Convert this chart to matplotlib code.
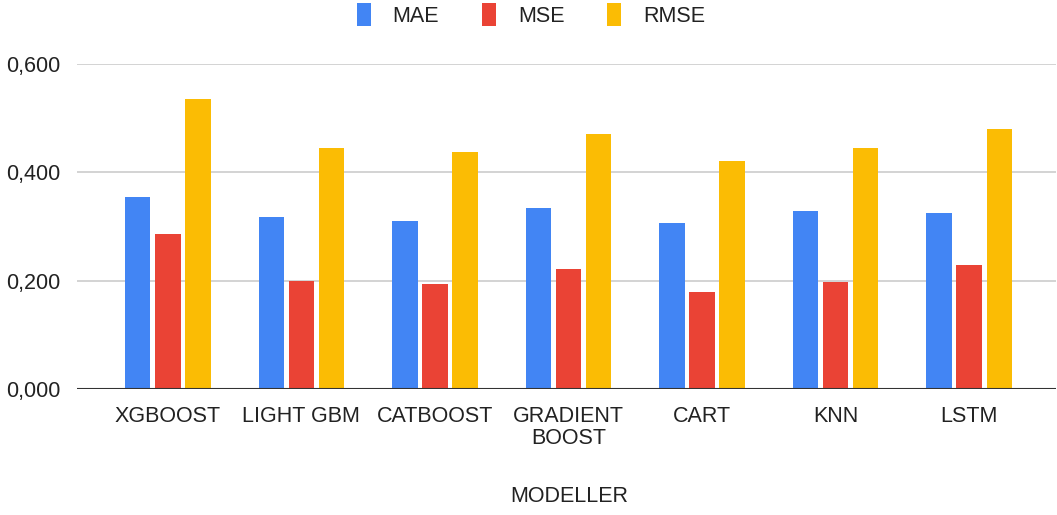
import matplotlib
matplotlib.use("Agg")
import matplotlib.pyplot as plt
from matplotlib.patches import Patch
from matplotlib.ticker import FuncFormatter, FixedLocator
import numpy as np

plt.rcParams['font.family'] = ['Liberation Sans', 'DejaVu Sans']

###### DATA ######
models = ['XGBOOST', 'LIGHT GBM', 'CATBOOST', 'GRADIENT\nBOOST', 'CART', 'KNN', 'LSTM']
mae = [0.355, 0.318, 0.311, 0.335, 0.307, 0.328, 0.324]
mse = [0.286, 0.200, 0.194, 0.221, 0.180, 0.197, 0.229]
rmse = [0.535, 0.445, 0.438, 0.470, 0.421, 0.445, 0.480]
series_names = ['MAE', 'MSE', 'RMSE']
colors = ['#4285F4', '#EA4335', '#FBBC04']

FS = 15.5

###### PLOT ######
fig = plt.figure(figsize=(10.57, 5.15), dpi=100)
ax = fig.add_axes([77 / 1057, 1 - 389 / 515, 979 / 1057, 325 / 515])

x = np.arange(len(models))
bar_w = 0.19
step = 0.225
for i, (vals, col) in enumerate(zip([mae, mse, rmse], colors)):
    ax.bar(x + (i - 1) * step, vals, width=bar_w, color=col, zorder=3)

ax.set_xlim(-0.68, 6.65)
ax.set_ylim(0, 0.6)
ax.yaxis.set_major_locator(FixedLocator([0, 0.2, 0.4, 0.6]))
ax.yaxis.set_major_formatter(FuncFormatter(lambda v, p: f'{v:.3f}'.replace('.', ',')))
ax.grid(axis='y', color='#cccccc', linewidth=1.2, zorder=0)
ax.axhline(0, color='#333333', linewidth=1.5, zorder=4)

for s in ax.spines.values():
    s.set_visible(False)

ax.set_xticks(x)
ax.set_xticklabels(models, fontsize=FS, color='#222222', linespacing=1.1)
ax.tick_params(axis='x', length=0, pad=12)
ax.tick_params(axis='y', length=0, pad=12, labelsize=FS, labelcolor='#222222')

fig.text(569 / 1057, 1 - 497 / 515, 'MODELLER', ha='center', va='center',
         fontsize=FS, color='#222222')

handles = [Patch(facecolor=c, edgecolor='none') for c in colors]
fig.legend(handles, series_names, loc='center', bbox_to_anchor=(531 / 1057, 1 - 15 / 515),
           ncol=3, frameon=False, fontsize=FS, handlelength=0.65, handleheight=1.25,
           handletextpad=1.0, columnspacing=2.0, labelcolor='#222222')

fig.savefig('out.png', dpi=100)
